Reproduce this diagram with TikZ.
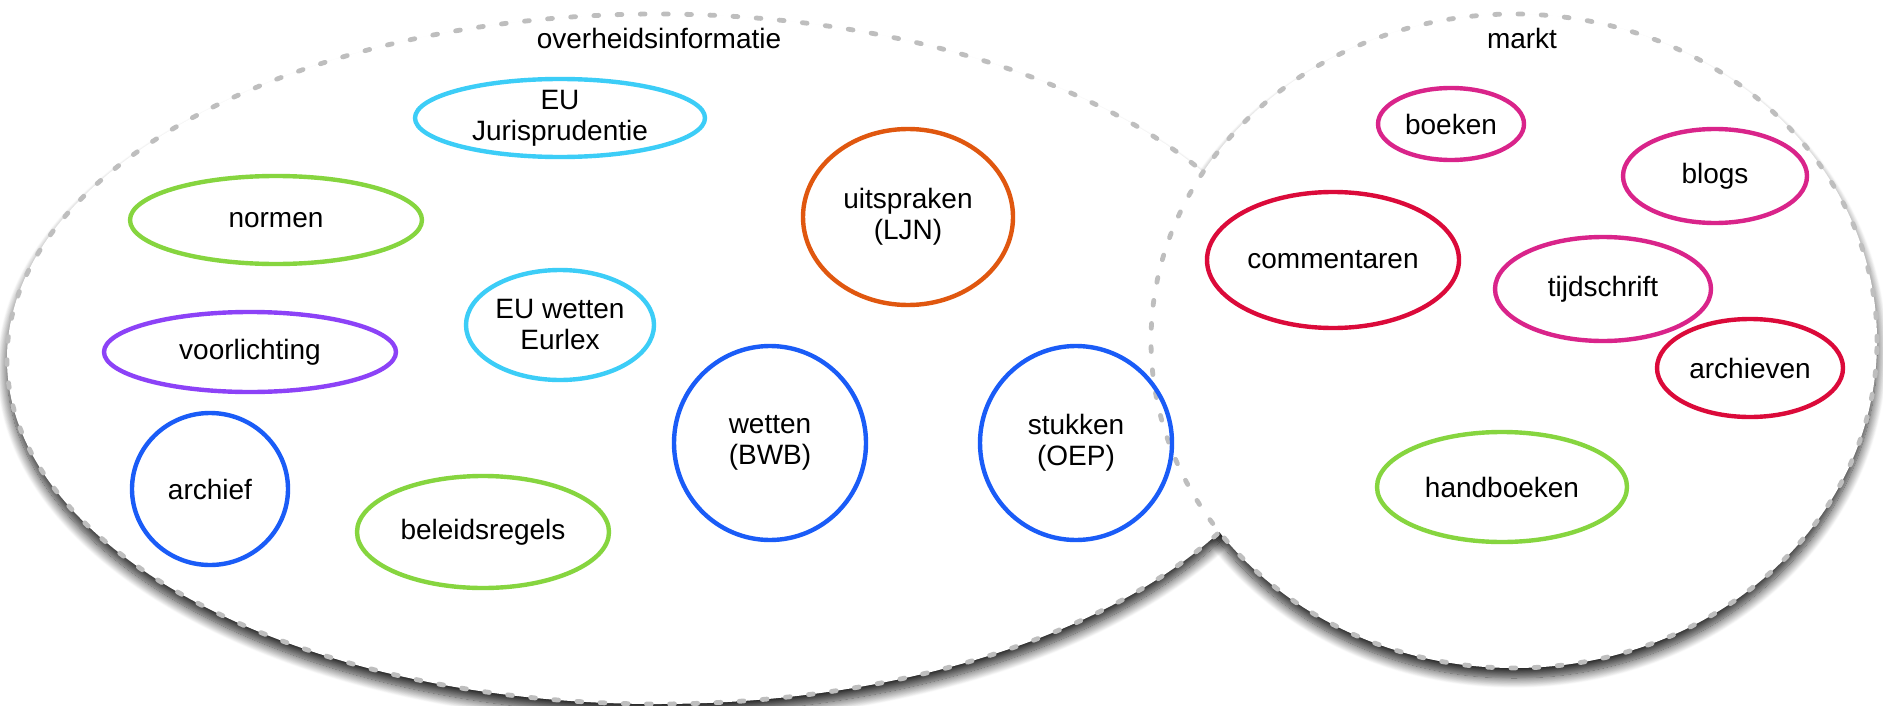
\documentclass[tikz,border=0pt]{standalone}
\usepackage{fontspec}
\setmainfont{Liberation Sans}
\usetikzlibrary{shapes.geometric,shadows.blur}

\definecolor{randgrijs}{RGB}{190,190,190}
\definecolor{eucyaan}{RGB}{60,205,247}
\definecolor{normgroen}{RGB}{134,213,63}
\definecolor{ljnoranje}{RGB}{224,87,15}
\definecolor{paars}{RGB}{140,66,247}
\definecolor{wetblauw}{RGB}{26,92,247}
\definecolor{magenta}{RGB}{217,36,138}
\definecolor{karmijn}{RGB}{219,10,58}

\begin{document}
\begin{tikzpicture}[x=0.5pt,y=-0.5pt,
    bron/.style={ellipse, draw, line width=2.2pt, inner xsep=0pt, inner ysep=-4pt,
        align=center, font=\fontsize{14}{15.5}\selectfont},
    gebied/.style={draw=randgrijs, fill=white, line width=2.4pt,
        dash pattern=on 2.4pt off 9.2pt, line cap=round},
    schaduw/.style={blur shadow={shadow xshift=0pt, shadow yshift=-5pt,
        shadow blur radius=5pt, shadow blur steps=16, shadow opacity=85}},
    kop/.style={font=\fontsize{14}{15.5}\selectfont}]

\useasboundingbox (0,0) rectangle (1883,706);

% de twee gebieden
\coordinate (ovhc) at (657,359);
\coordinate (mktc) at (1514,341);
\path[schaduw] (ovhc) ellipse [x radius=325pt, y radius=172.5pt];
\path[schaduw] (mktc) ellipse [x radius=181.5pt, y radius=163.5pt];
\path[gebied] (ovhc) ellipse [x radius=325pt, y radius=172.5pt];
\path[gebied] (mktc) ellipse [x radius=181.5pt, y radius=163.5pt];

\node[kop] (ovh) at (659,38) {overheidsinformatie};
\node[kop] (mkt) at (1522,38) {markt};

% overheidsinformatie
\node[bron, draw=eucyaan, minimum width=145pt, minimum height=39pt] (eujur) at (560,118) {EU\\Jurisprudentie};
\node[bron, draw=normgroen, minimum width=146pt, minimum height=44pt] (normen) at (276,220) {normen};
\node[bron, draw=ljnoranje, minimum width=105pt, minimum height=88pt] (ljn) at (908,217) {uitspraken\\(LJN)};
\node[bron, draw=eucyaan, minimum width=94pt, minimum height=55pt] (eurlex) at (560,325) {EU wetten\\Eurlex};
\node[bron, draw=paars, minimum width=146pt, minimum height=40pt] (voorl) at (250,352) {voorlichting};
\node[bron, draw=wetblauw, minimum width=96pt, minimum height=97pt] (bwb) at (770,443) {wetten\\(BWB)};
\node[bron, draw=wetblauw, minimum width=96pt, minimum height=97pt] (oep) at (1076,443) {stukken\\(OEP)};
\node[bron, draw=wetblauw, minimum width=78pt, minimum height=76pt] (archief) at (210,489) {archief};
\node[bron, draw=normgroen, minimum width=126pt, minimum height=56pt] (beleid) at (483,532) {beleidsregels};

% markt
\node[bron, draw=magenta, minimum width=73pt, minimum height=36pt] (boeken) at (1451,124) {boeken};
\node[bron, draw=magenta, minimum width=92pt, minimum height=47pt] (blogs) at (1715,176) {blogs};
\node[bron, draw=karmijn, minimum width=126pt, minimum height=68pt] (comm) at (1333,260) {commentaren};
\node[bron, draw=magenta, minimum width=108pt, minimum height=52pt] (tijd) at (1603,289) {tijdschrift};
\node[bron, draw=karmijn, minimum width=93pt, minimum height=49pt] (archieven) at (1750,368) {archieven};
\node[bron, draw=normgroen, minimum width=125pt, minimum height=55pt] (handb) at (1502,487) {handboeken};

\end{tikzpicture}
\end{document}
